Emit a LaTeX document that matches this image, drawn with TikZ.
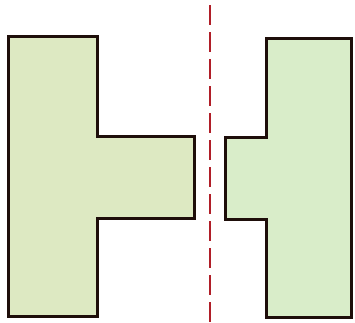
\documentclass[tikz,border=0pt]{standalone}
\usepackage{tikz}

\definecolor{leftgreen}{HTML}{DDE9C2}
\definecolor{rightgreen}{HTML}{D9EDC9}
\definecolor{edgebrown}{HTML}{1E0E0A}
\definecolor{axisred}{HTML}{B01E28}

\begin{document}
\begin{tikzpicture}[x=1pt, y=-1pt,
  piece/.style={draw=edgebrown, line width=3pt, line join=miter},
  axisline/.style={draw=axisred, line width=2pt, dash pattern=on 20pt off 7pt}]
\useasboundingbox (0,0) rectangle (355,322);

\draw[piece, fill=leftgreen] (8,36) -- (97,36) -- (97,136) -- (194,136) -- (194,218) -- (97,218) -- (97,316) -- (8,316) -- cycle;
\draw[piece, fill=rightgreen] (266,38) -- (351,38) -- (351,317) -- (266,317) -- (266,219) -- (225,219) -- (225,137) -- (266,137) -- cycle;

\draw[axisline] (210,5) -- (210,322);
\end{tikzpicture}
\end{document}
